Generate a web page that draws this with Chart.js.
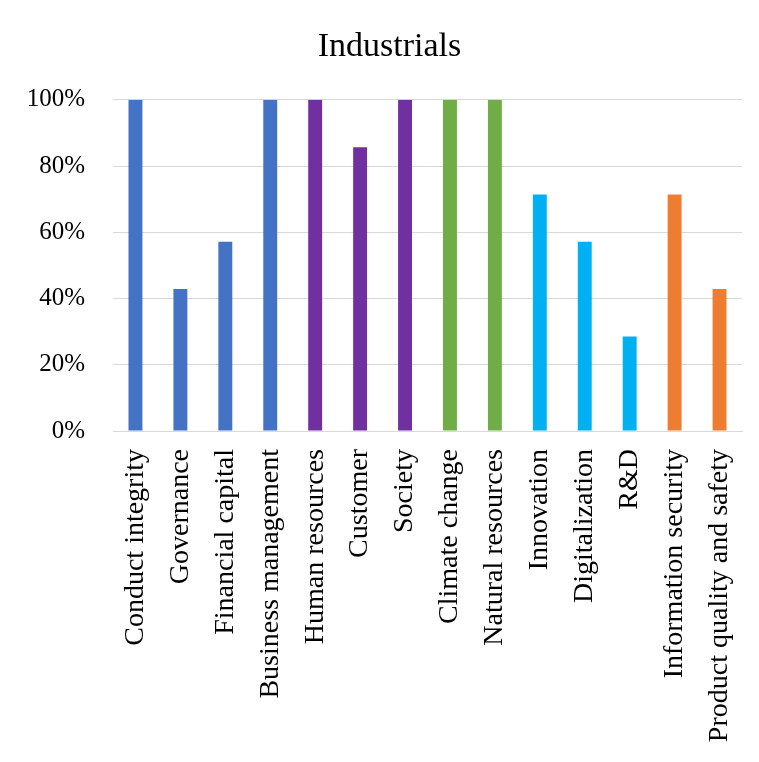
<!DOCTYPE html>
<html>
<head>
<meta charset="utf-8">
<script src="https://cdn.jsdelivr.net/npm/chart.js@4/dist/chart.umd.min.js"></script>
<style>
  body { margin: 0; background: #fff; }
  canvas { display: block; }
</style>
</head>
<body>
<canvas id="chart" width="759" height="762"></canvas>
<script>
// data (shares out of 7 companies)
const categories = [
    'Conduct integrity', 'Governance', 'Financial capital', 'Business management',
    'Human resources', 'Customer', 'Society', 'Climate change', 'Natural resources',
    'Innovation', 'Digitalization', 'R&D', 'Information security', 'Product quality and safety'
];
const shares = [100, 42.86, 57.14, 100, 100, 85.71, 100, 100, 100, 71.43, 57.14, 28.57, 71.43, 42.86];
const barColors = [
    '#4472C4', '#4472C4', '#4472C4', '#4472C4',
    '#7030A0', '#7030A0', '#7030A0',
    '#70AD47', '#70AD47',
    '#00B0F0', '#00B0F0', '#00B0F0',
    '#ED7D31', '#ED7D31'
];
const yTicks = [0, 20, 40, 60, 80, 100];

const fontFamily = '"Liberation Serif", "Times New Roman", serif';

const ctx = document.getElementById('chart').getContext('2d');
new Chart(ctx, {
    type: 'bar',
    data: {
        labels: categories,
        datasets: [{
            label: 'Industrials',
            data: shares,
            backgroundColor: barColors,
            borderWidth: 0,
            categoryPercentage: 1,
            barPercentage: 0.31
        }]
    },
    options: {
        responsive: false,
        animation: false,
        layout: { padding: { left: 26, right: 6, top: 0, bottom: 0 } },
        plugins: {
            legend: { display: false },
            tooltip: { enabled: false },
            title: {
                display: true,
                text: 'Industrials',
                color: '#000',
                font: { family: fontFamily, size: 34, weight: 'normal' },
                padding: { top: 27, bottom: 32 }
            }
        },
        scales: {
            x: {
                grid: { display: false, drawTicks: false },
                border: { display: true, color: '#d9d9d9', width: 1 },
                ticks: {
                    color: '#000',
                    font: { family: fontFamily, size: 28 },
                    minRotation: 90,
                    maxRotation: 90,
                    padding: 18,
                    autoSkip: false
                },
                afterFit: function(scale) {
                    scale.height = 331;
                    scale.paddingLeft = 0;
                    scale.paddingRight = 17; // keeps plot right edge at x=742
                }
            },
            y: {
                min: 0,
                max: 100,
                afterBuildTicks: function(scale) {
                    scale.ticks = yTicks.map(v => ({ value: v }));
                },
                grid: { color: '#d9d9d9', drawTicks: false },
                border: { display: false },
                ticks: {
                    color: '#000',
                    font: { family: fontFamily, size: 25 },
                    padding: 28,
                    callback: v => v + '%'
                },
                afterFit: function(scale) { scale.width = 87; }
            }
        }
    }
});
</script>
</body>
</html>
